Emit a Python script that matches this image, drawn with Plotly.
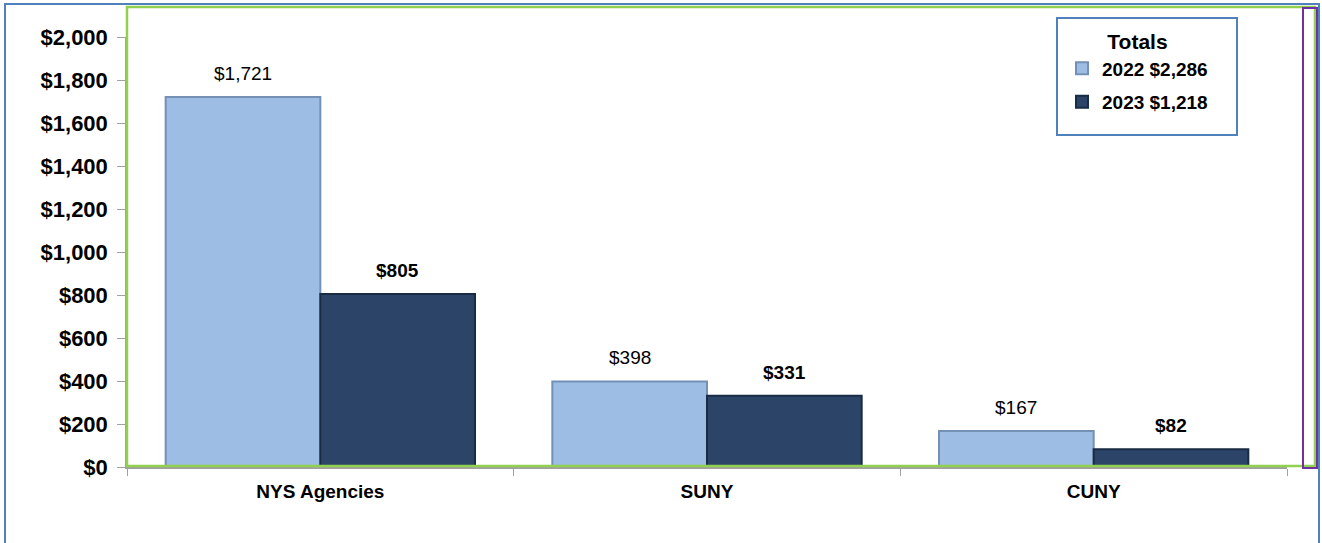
import plotly.graph_objects as go

categories = ["NYS Agencies", "SUNY", "CUNY"]
values_2022 = [1721, 398, 167]
values_2023 = [805, 331, 82]
series_names = ["2022", "2023"]
totals = ["$2,286", "$1,218"]
y_ticks = [0, 200, 400, 600, 800, 1000, 1200, 1400, 1600, 1800, 2000]

W, H = 1322, 543
L, R, T, B = 127, 35, 37, 76
pw, ph = W - L - R, H - T - B

def px(x):
    return (x - L) / pw

def py(y):
    return (H - B - y) / ph

FONT = "Arial, Liberation Sans, sans-serif"

fig = go.Figure()
fig.add_trace(go.Bar(
    x=categories, y=values_2022, name=f"<b>{series_names[0]} {totals[0]}</b>",
    legendgroup="a",
    marker=dict(color="#9EBDE4", line=dict(color="#7590B5", width=2)),
))
fig.add_trace(go.Bar(
    x=categories, y=values_2023, name=f"<b>{series_names[1]} {totals[1]}</b>",
    legendgroup="b",
    marker=dict(color="#2B4468", line=dict(color="#1A2B44", width=2)),
))

# value labels above bars (offset to left/right bar of each group)
bar_half = 0.8 * pw / len(categories) / 4
annotations = []
for c, v in zip(categories, values_2022):
    annotations.append(dict(x=c, y=v, xref="x", yref="y", text=f"${v:,}",
                            showarrow=False, xshift=-bar_half, yshift=11,
                            yanchor="bottom",
                            font=dict(family=FONT, size=19, color="#000000")))
for c, v in zip(categories, values_2023):
    annotations.append(dict(x=c, y=v, xref="x", yref="y", text=f"<b>${v:,}</b>",
                            showarrow=False, xshift=bar_half, yshift=11,
                            yanchor="bottom",
                            font=dict(family=FONT, size=19, color="#000000")))

shapes = [
    # outer blue border
    dict(type="rect", xref="paper", yref="paper",
         x0=px(5), x1=px(1319), y0=py(548), y1=py(4),
         line=dict(color="#4F81BD", width=2)),
    # green frame
    dict(type="rect", xref="paper", yref="paper",
         x0=px(127), x1=px(1315), y0=py(466), y1=py(7),
         line=dict(color="#92D050", width=2.5)),
    # purple frame
    dict(type="rect", xref="paper", yref="paper",
         x0=px(1303), x1=px(1317), y0=py(468), y1=py(8),
         line=dict(color="#7030A0", width=2)),
    # legend box
    dict(type="rect", xref="paper", yref="paper",
         x0=px(1057), x1=px(1237), y0=py(135), y1=py(18),
         line=dict(color="#4F81BD", width=2), fillcolor="white", layer="below"),
]

fig.update_layout(
    width=W, height=H,
    margin=dict(l=L, r=R, t=T, b=B),
    paper_bgcolor="white", plot_bgcolor="white",
    barmode="group", bargap=0.2, bargroupgap=0,
    font=dict(family=FONT, color="#000000"),
    showlegend=True,
    legend=dict(
        x=px(1062), xanchor="left", y=py(22), yanchor="top",
        bgcolor="rgba(0,0,0,0)", borderwidth=0,
        font=dict(size=19, family=FONT),
        title=dict(text="<b>Totals</b>", side="top center",
                   font=dict(size=21, family=FONT)),
        itemwidth=30, tracegroupgap=6,
    ),
    shapes=shapes,
    annotations=annotations,
    xaxis=dict(
        showline=True, linecolor="#A0A0A0", linewidth=1.5,
        ticks="outside", tickson="boundaries", ticklen=7, tickcolor="#A0A0A0",
        tickfont=dict(size=19, family=FONT, weight="bold"),
        ticklabelstandoff=6,
        showgrid=False, zeroline=False,
    ),
    yaxis=dict(
        range=[0, 2000], tickvals=y_ticks,
        ticktext=[f"${v:,}" for v in y_ticks],
        showline=True, linecolor="#A0A0A0", linewidth=1.5,
        ticks="outside", ticklen=8, tickcolor="#A0A0A0",
        tickfont=dict(size=22, family=FONT, weight="bold"),
        ticklabelstandoff=5,
        showgrid=False, zeroline=False,
    ),
)

fig.write_html("out.html", config={"displayModeBar": False},
               post_script="document.body.style.margin='0';")
